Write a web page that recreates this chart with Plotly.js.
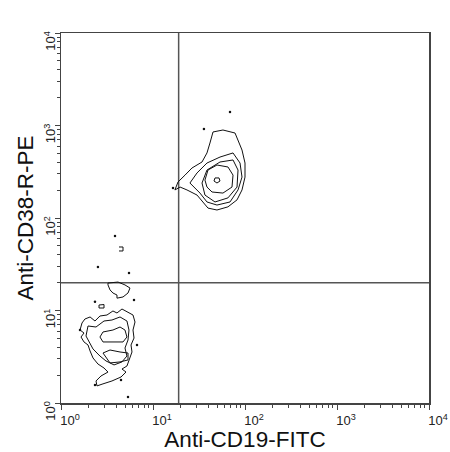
<!DOCTYPE html>
<html>
<head>
<meta charset="utf-8">
<script src="https://cdn.plot.ly/plotly-3.0.1.min.js"></script>
<style>html,body{margin:0;padding:0;background:#fff;}#chart{width:450px;height:452px;}</style>
</head>
<body>
<div id="chart"></div>
<script>
// ---- Data (fluorescence values, linear units) ----
var xTitle = "Anti-CD19-FITC";
var yTitle = "Anti-CD38-R-PE";
var decadeVals = [1, 10, 100, 1000, 10000];
var decadeLabels = ["10<sup>0</sup>", "10<sup>1</sup>", "10<sup>2</sup>", "10<sup>3</sup>", "10<sup>4</sup>"];
var minorVals = [2,3,4,5,6,7,8,9,20,30,40,50,60,70,80,90,200,300,400,500,600,700,800,900,2000,3000,4000,5000,6000,7000,8000,9000];
var gateX = 19;   // vertical quadrant marker
var gateY = 20;   // horizontal quadrant marker

// CD19+ CD38+ population contours (outer to inner)
var up1X = [44.9, 57.6, 77.9, 84.0, 92.8, 100, 100, 92.8, 81.9, 65.3, 49.6, 39.6, 34.9, 30.1, 23.4, 19.7, 17.3, 18.7, 22.3, 26.5, 34.1, 38.6, 41.6, 44.9];
var up1Y = [851, 894, 829, 697, 543, 393, 277, 201, 157, 132, 122, 128, 149, 177, 201, 216, 201, 245, 291, 347, 403, 505, 647, 851];
var up2X = [25.2, 30.1, 38.6, 53.5, 74.1, 88.3, 92.8, 84.0, 68.7, 49.6, 38.6, 32.4, 25.2];
var up2Y = [239, 307, 393, 456, 505, 393, 277, 201, 149, 138, 149, 186, 239];
var up3X = [34.1, 38.6, 53.5, 74.1, 84.0, 81.9, 65.3, 47.2, 36.7, 34.1];
var up3Y = [239, 330, 403, 424, 330, 216, 165, 149, 177, 239];
var up4X = [36.7, 39.6, 49.6, 65.3, 74.1, 72.2, 57.6, 43.8, 38.6, 36.7];
var up4Y = [257, 330, 374, 356, 291, 216, 186, 191, 216, 257];
var up5X = [47.2, 52.2, 53.5, 49.6, 46.0, 47.2];
var up5Y = [271, 271, 251, 239, 251, 271];

// CD19- population contours
var lo1X = [3.24, 4.165, 4.96, 5.62, 5.35, 4.72, 4.06, 4.06, 3.67, 3.41, 3.24, 3.24];
var lo1Y = [19.8, 20.3, 18.9, 17.5, 15.46, 14.0, 13.6, 14.71, 15.46, 16.7, 18.9, 19.8];
var lo2X = [1.692, 1.82, 2.07, 2.34, 2.65, 3.16, 3.67, 4.06, 4.60, 5.35, 6.06, 6.373, 6.06, 6.22, 5.768, 5.91, 5.48, 5.21, 4.60, 5.088, 4.49, 3.58, 2.86, 2.46, 2.401, 2.722, 3.24, 2.934, 2.52, 2.227, 2.07, 1.966, 1.778, 1.650, 1.778, 1.61, 1.692];
var lo2Y = [7.33, 8.09, 8.51, 7.70, 8.72, 8.94, 9.88, 9.40, 10.38, 9.63, 8.94, 7.51, 6.15, 5.04, 4.24, 3.56, 2.92, 2.51, 2.33, 2.16, 1.91, 1.73, 1.61, 1.53, 1.73, 1.96, 2.16, 2.39, 2.64, 3.07, 3.65, 4.24, 4.57, 5.17, 5.71, 6.15, 7.33];
var lo3X = [1.966, 2.401, 2.934, 3.58, 4.38, 5.21, 5.48, 5.35, 4.96, 5.21, 4.60, 3.77, 3.08, 2.65, 2.227, 2.015, 1.869, 1.966];
var lo3Y = [6.80, 6.63, 7.70, 7.89, 8.51, 7.70, 6.15, 4.80, 3.93, 3.22, 2.78, 2.58, 2.85, 3.22, 3.84, 4.57, 5.30, 6.80];
var lo4X = [2.65, 2.86, 3.67, 4.38, 4.96, 5.21, 4.72, 3.67, 2.86, 2.65];
var lo4Y = [5.17, 5.86, 6.15, 6.63, 6.15, 5.17, 4.57, 4.57, 4.57, 5.17];
var lo5X = [2.86, 3.41, 4.38, 5.35, 5.35, 4.38, 3.41, 2.86];
var lo5Y = [3.47, 3.74, 3.56, 3.47, 2.92, 2.78, 2.71, 3.47];
var lo6X = [2.59, 2.934, 2.934, 2.59, 2.59];
var lo6Y = [11.47, 11.6, 10.64, 10.64, 11.47];
var lo7X = [4.27, 4.72, 4.72, 4.27];
var lo7Y = [48.6, 48.6, 44.0, 44.0];

// isolated events
var dotX = [68.7, 35.8, 16.5, 3.86, 2.52, 5.48, 2.34, 6.22, 6.70, 4.49, 2.34, 1.61, 5.35];
var dotY = [1400, 916, 211, 63.9, 29.5, 25.4, 12.4, 13.0, 4.24, 1.77, 1.57, 6.15, 1.16];

// ---- Build traces ----
function contour(xs, ys) {
  return {type: 'scatter', mode: 'lines', x: xs, y: ys,
          line: {color: '#111', width: 1}, hoverinfo: 'skip', showlegend: false};
}
var traces = [
  {type: 'scatter', mode: 'lines', x: [gateX, gateX], y: [decadeVals[0], decadeVals[4]],
   line: {color: '#555', width: 1.5}, hoverinfo: 'skip', showlegend: false},
  {type: 'scatter', mode: 'lines', x: [decadeVals[0], decadeVals[4]], y: [gateY, gateY],
   line: {color: '#555', width: 1.5}, hoverinfo: 'skip', showlegend: false},
  contour(up1X, up1Y), contour(up2X, up2Y), contour(up3X, up3Y), contour(up4X, up4Y), contour(up5X, up5Y),
  contour(lo1X, lo1Y), contour(lo2X, lo2Y), contour(lo3X, lo3Y), contour(lo4X, lo4Y), contour(lo5X, lo5Y),
  contour(lo6X, lo6Y), contour(lo7X, lo7Y),
  {type: 'scatter', mode: 'markers', x: dotX, y: dotY,
   marker: {color: '#111', size: 2.5}, hoverinfo: 'skip', showlegend: false}
];

var axisCommon = {
  type: 'log', range: [0, 4], tickmode: 'array', tickvals: decadeVals, ticktext: decadeLabels,
  ticks: 'outside', ticklen: 5, tickwidth: 1, tickcolor: '#444',
  showline: true, linecolor: '#444', linewidth: 1.5, mirror: true,
  showgrid: false, zeroline: false,
  tickfont: {family: 'Liberation Sans, Arial, sans-serif', size: 13, color: '#222'},
  minor: {tickmode: 'array', tickvals: minorVals, ticks: 'outside', ticklen: 3, tickwidth: 1, tickcolor: '#444', showgrid: false}
};
var xaxis = Object.assign({}, axisCommon, {
  ticklabelshift: 9, ticklabelstandoff: 0,
  title: {text: xTitle, standoff: 4, font: {family: 'Liberation Sans, Arial, sans-serif', size: 22.5, color: '#111'}}
});
var yaxis = Object.assign({}, axisCommon, {
  tickangle: -90, ticklabelshift: 10, ticklabelstandoff: -6,
  title: {text: yTitle, standoff: 2, font: {family: 'Liberation Sans, Arial, sans-serif', size: 22.5, color: '#111'}}
});

var layout = {
  width: 450, height: 452,
  margin: {l: 61, r: 21, t: 33, b: 49, pad: 0},
  paper_bgcolor: '#fff', plot_bgcolor: '#fff',
  xaxis: xaxis, yaxis: yaxis,
  showlegend: false
};
Plotly.newPlot('chart', traces, layout, {staticPlot: true, displayModeBar: false});
</script>
</body>
</html>
